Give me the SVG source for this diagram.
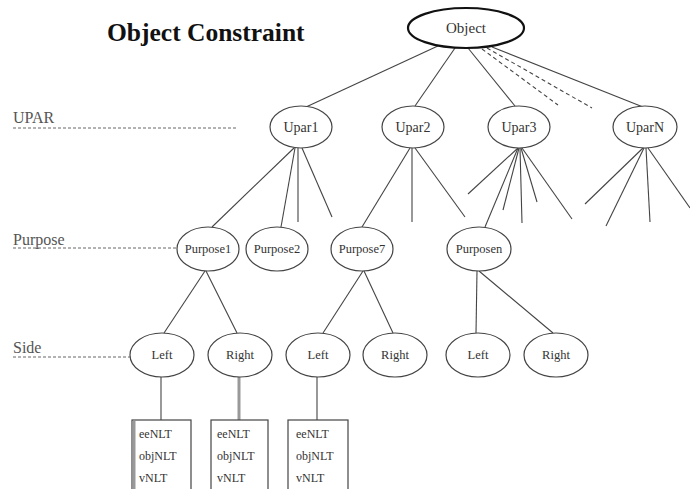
<svg xmlns="http://www.w3.org/2000/svg" width="690" height="489" viewBox="0 0 690 489">
  <style>
    .bg { fill: #ffffff; }
    .node ellipse { fill: #ffffff; stroke: #444; stroke-width: 1.2; }
    .node text, .box text { font-family: "Liberation Serif", "Times New Roman", serif; font-size: 12.5px; fill: #333; text-anchor: middle; }
    .box rect { fill: #ffffff; stroke: #444; stroke-width: 1.2; }
    .box text { text-anchor: start; font-size: 12px; }
    .edges line { stroke: #444; stroke-width: 1.1; fill: none; }
    .edges .dash { stroke-dasharray: 4 3; }
    .edges .guide { stroke: #666; stroke-dasharray: 3 2; stroke-width: 1; }
    .edges .thick { stroke: #999; stroke-width: 3; }
    .level { font-family: "Liberation Serif", "Times New Roman", serif; font-size: 16px; fill: #555; }
    .title { font-family: "Liberation Serif", "Times New Roman", serif; font-size: 25.5px; font-weight: bold; fill: #111; }
    .upar text { font-size: 14px; }
  </style>
  <rect class="bg" x="0" y="0" width="690" height="489"/>

  <text class="title" x="107" y="41">Object Constraint</text>

  <!-- level labels -->
  <text class="level" x="13" y="123">UPAR</text>
  <text class="level" x="13" y="245">Purpose</text>
  <text class="level" x="13" y="353">Side</text>

  <g id="connectors" class="edges">
    <!-- level guides -->
    <line class="guide" x1="13" y1="128" x2="236" y2="128"/>
    <line class="guide" x1="13" y1="248" x2="177" y2="248"/>
    <line class="guide" x1="13" y1="357" x2="130" y2="357"/>

    <!-- Object to UPAR level -->
    <line x1="440" y1="45" x2="306" y2="107"/>
    <line x1="455" y1="48" x2="415" y2="106"/>
    <line x1="468" y1="48" x2="515" y2="106"/>
    <line class="dash" x1="482" y1="49" x2="558" y2="105"/>
    <line class="dash" x1="487" y1="48" x2="592" y2="108"/>
    <line x1="492" y1="47" x2="643" y2="107"/>

    <!-- Upar1 branches -->
    <line x1="294" y1="148" x2="212" y2="227"/>
    <line x1="295" y1="148" x2="281" y2="227"/>
    <line x1="298" y1="148" x2="298" y2="222"/>
    <line x1="302" y1="148" x2="332" y2="217"/>

    <!-- Upar2 branches -->
    <line x1="410" y1="148" x2="362" y2="227"/>
    <line x1="412" y1="148" x2="412" y2="222"/>
    <line x1="415" y1="148" x2="465" y2="217"/>

    <!-- Upar3 branches -->
    <line x1="518" y1="148" x2="468" y2="194"/>
    <line x1="518" y1="148" x2="485" y2="227"/>
    <line x1="519" y1="148" x2="503" y2="210"/>
    <line x1="520" y1="148" x2="522" y2="223"/>
    <line x1="521" y1="148" x2="537" y2="202"/>
    <line x1="522" y1="148" x2="572" y2="219"/>

    <!-- UparN branches -->
    <line x1="643" y1="148" x2="585" y2="204"/>
    <line x1="644" y1="148" x2="606" y2="226"/>
    <line x1="646" y1="148" x2="650" y2="222"/>
    <line x1="648" y1="148" x2="690" y2="208"/>

    <!-- Purpose to Side -->
    <line x1="205" y1="271" x2="164" y2="333"/>
    <line x1="206" y1="271" x2="237" y2="333"/>
    <line x1="363" y1="271" x2="323" y2="333"/>
    <line x1="364" y1="271" x2="393" y2="333"/>
    <line x1="477" y1="271" x2="476" y2="333"/>
    <line x1="479" y1="271" x2="553" y2="333"/>

    <!-- Side to boxes -->
    <line x1="161" y1="377" x2="161" y2="420"/>
    <line class="thick" x1="239" y1="377" x2="239" y2="420"/>
    <line x1="317" y1="377" x2="317" y2="420"/>
  </g>

  <g id="object" class="node">
    <ellipse cx="466" cy="28" rx="58" ry="20" style="stroke:#111;stroke-width:2.2"/>
    <text x="466" y="33" style="font-size:15px">Object</text>
  </g>

  <g id="upar1" class="node upar">
    <ellipse cx="301" cy="127" rx="31" ry="21"/>
    <text x="301" y="132">Upar1</text>
  </g>
  <g id="upar2" class="node upar">
    <ellipse cx="413" cy="127" rx="31" ry="21"/>
    <text x="413" y="132">Upar2</text>
  </g>
  <g id="upar3" class="node upar">
    <ellipse cx="519" cy="127" rx="31" ry="21"/>
    <text x="519" y="132">Upar3</text>
  </g>
  <g id="uparN" class="node upar">
    <ellipse cx="645" cy="127" rx="32" ry="21"/>
    <text x="645" y="132">UparN</text>
  </g>

  <g id="purpose1" class="node">
    <ellipse cx="208" cy="249" rx="31" ry="22"/>
    <text x="208" y="253">Purpose1</text>
  </g>
  <g id="purpose2" class="node">
    <ellipse cx="277" cy="249" rx="31" ry="22"/>
    <text x="277" y="253">Purpose2</text>
  </g>
  <g id="purpose7" class="node">
    <ellipse cx="362" cy="249" rx="31" ry="22"/>
    <text x="362" y="253">Purpose7</text>
  </g>
  <g id="purposen" class="node">
    <ellipse cx="479" cy="249" rx="32" ry="22"/>
    <text x="479" y="253">Purposen</text>
  </g>

  <g id="left1" class="node">
    <ellipse cx="162" cy="355" rx="32" ry="22"/>
    <text x="162" y="359">Left</text>
  </g>
  <g id="right1" class="node">
    <ellipse cx="240" cy="355" rx="32" ry="22"/>
    <text x="240" y="359">Right</text>
  </g>
  <g id="left2" class="node">
    <ellipse cx="318" cy="355" rx="32" ry="22"/>
    <text x="318" y="359">Left</text>
  </g>
  <g id="right2" class="node">
    <ellipse cx="395" cy="355" rx="32" ry="22"/>
    <text x="395" y="359">Right</text>
  </g>
  <g id="left3" class="node">
    <ellipse cx="478" cy="355" rx="32" ry="22"/>
    <text x="478" y="359">Left</text>
  </g>
  <g id="right3" class="node">
    <ellipse cx="556" cy="355" rx="32" ry="22"/>
    <text x="556" y="359">Right</text>
  </g>

  <g id="box1" class="box">
    <rect x="132" y="420" width="59" height="80"/>
    <line x1="134" y1="421" x2="134" y2="489" stroke="#999" stroke-width="3"/>
    <text x="139" y="438">eeNLT</text>
    <text x="139" y="460">objNLT</text>
    <text x="139" y="482">vNLT</text>
  </g>
  <g id="box2" class="box">
    <rect x="211" y="420" width="57" height="80"/>
    <text x="217" y="438">eeNLT</text>
    <text x="217" y="460">objNLT</text>
    <text x="217" y="482">vNLT</text>
  </g>
  <g id="box3" class="box">
    <rect x="288" y="420" width="60" height="80"/>
    <text x="296" y="438">eeNLT</text>
    <text x="296" y="460">objNLT</text>
    <text x="296" y="482">vNLT</text>
  </g>
</svg>
